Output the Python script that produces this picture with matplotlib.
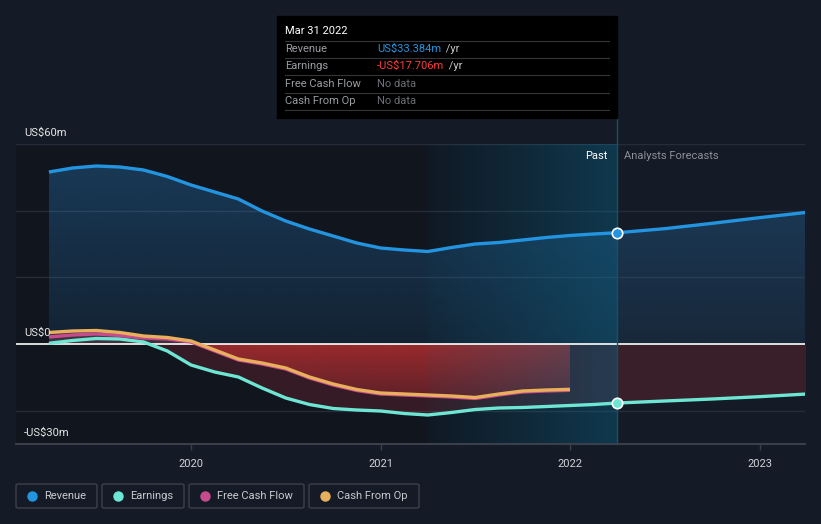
import numpy as np
import matplotlib
matplotlib.use("Agg")
import matplotlib.pyplot as plt
from matplotlib.patches import Rectangle, FancyBboxPatch
from matplotlib.colors import to_rgba

plt.rcParams['font.family'] = ['Roboto', 'DejaVu Sans']

# ---------------- data (US$ m, decimal years) ----------------
past_years = [2019.25, 2019.375, 2019.5, 2019.625, 2019.75, 2019.875, 2020.0, 2020.125,
              2020.25, 2020.375, 2020.5, 2020.625, 2020.75, 2020.875, 2021.0, 2021.125,
              2021.25, 2021.375, 2021.5, 2021.625, 2021.75, 2021.875, 2022.0, 2022.125,
              2022.25]
revenue_past = [51.6, 52.8, 53.4, 53.1, 52.2, 50.25, 47.7, 45.6,
                43.5, 39.9, 36.9, 34.5, 32.4, 30.3, 28.8, 28.2,
                27.75, 28.95, 30.0, 30.45, 31.2, 31.95, 32.55, 33.0,
                33.384]
earnings_past = [0.2, 1.05, 1.65, 1.5, 0.6, -2.1, -6.3, -8.4,
                 -9.9, -13.2, -16.2, -18.15, -19.35, -19.8, -20.1, -20.85,
                 -21.3, -20.55, -19.65, -19.2, -19.05, -18.75, -18.45, -18.15,
                 -17.706]
forecast_years = [2022.25, 2022.5, 2022.75, 2023.0, 2023.25]
revenue_forecast = [33.384, 34.6, 36.2, 37.9, 39.5]
earnings_forecast = [-17.706, -17.1, -16.5, -15.8, -15.0]

cash_years = past_years[:23]
cash_from_op = [3.45, 3.9, 4.05, 3.45, 2.4, 1.95, 0.9, -1.8,
                -4.5, -5.7, -7.2, -9.9, -12.0, -13.65, -14.7, -15.0,
                -15.3, -15.6, -16.05, -15.0, -14.1, -13.8, -13.6]
free_cash_flow = [2.1, 2.7, 3.0, 2.55, 1.8, 1.5, 0.6, -2.1,
                  -4.8, -6.0, -7.5, -10.2, -12.3, -13.95, -15.0, -15.3,
                  -15.6, -15.9, -16.35, -15.3, -14.4, -14.1, -13.9]

y_ticks = [60, 0, -30]
y_tick_labels = ["US$60m", "US$0", "-US$30m"]
x_ticks = [2020, 2021, 2022, 2023]
x_tick_labels = ["2020", "2021", "2022", "2023"]
legend_labels = ["Revenue", "Earnings", "Free Cash Flow", "Cash From Op"]

# ---------------- style ----------------
BG = '#151b26'
C_REV = '#2394df'
C_EARN = '#6ee6d4'
C_FCF = '#c84b8e'
C_COP = '#e8b05c'

W, H = 821, 524
fig = plt.figure(figsize=(W / 100, H / 100), dpi=100, facecolor=BG)

def fx(px):
    return px / W

def fy(py):
    return 1 - py / H

ax_l, ax_r, ax_t, ax_b = 16, 805, 144, 444
ax = fig.add_axes([fx(ax_l), fy(ax_b), (ax_r - ax_l) / W, (ax_b - ax_t) / H])
ax.set_facecolor(BG)
x0 = 2020 + (ax_l - 191) / 189.5
x1 = 2020 + (ax_r - 191) / 189.5
ax.set_xlim(x0, x1)
ax.set_ylim(-30, 60)
for s in ax.spines.values():
    s.set_visible(False)

now = past_years[-1]
shade_start = 2021.25

# darker past region
ax.axvspan(x0, now, color='black', alpha=0.2, lw=0, zorder=0)

# grid lines
for g in [60, 40, 20, -20]:
    ax.axhline(g, color='#272d38', lw=1, zorder=1)

def gradient_fill(xs, y_top, y_bot, c, a_top, a_bot, z, ylims):
    poly = ax.fill_between(xs, y_top, y_bot, color='none', lw=0, zorder=z)
    rgba = np.array(to_rgba(c))
    n = 256
    grad = np.zeros((n, 1, 4))
    grad[:, 0, :3] = rgba[:3]
    grad[:, 0, 3] = np.linspace(a_top, a_bot, n)
    lo, hi = ylims
    im = ax.imshow(grad, extent=[min(xs), max(xs), lo, hi], aspect='auto',
                   origin='upper', zorder=z, interpolation='bilinear')
    im.set_clip_path(poly.get_paths()[0], transform=ax.transData)
    return im

all_years = past_years + forecast_years[1:]
all_rev = revenue_past + revenue_forecast[1:]
all_earn = earnings_past + earnings_forecast[1:]

# revenue fill
gradient_fill(all_years, all_rev, 0, '#2a80c4', 0.34, 0.13, 2, ylims=(0, 55))
# earnings negative fill
ax.fill_between(all_years, all_earn, 0, where=[e <= 0.01 for e in all_earn],
                interpolate=True, color='#6e2630', alpha=0.4, lw=0, zorder=2)
# cash flow fill (bright near zero, fading toward the line)
gradient_fill(cash_years, cash_from_op, 0, '#c03030', 0.72, 0.28, 3, ylims=(-17, 0))
ax.fill_between(cash_years, cash_from_op, 0, where=[c > 0 for c in cash_from_op],
                interpolate=True, color='#c86060', alpha=0.25, lw=0, zorder=3)

# highlight past year region (horizontal gradient)
n = 256
hgrad = np.zeros((1, n, 4))
hgrad[0, :, :3] = to_rgba('#0f6a90')[:3]
hgrad[0, :, 3] = np.linspace(0.05, 0.42, n)
ax.imshow(hgrad, extent=[shade_start, now, -30, 60], aspect='auto', zorder=4,
          interpolation='bilinear')
ax.set_xlim(x0, x1)
ax.set_ylim(-30, 60)

# zero line
ax.axhline(0, color='white', lw=1.2, zorder=5)

# lines
kw = dict(lw=2.4, solid_capstyle='butt', solid_joinstyle='round')
ax.plot(all_years, all_rev, color=C_REV, zorder=6, **kw)
ax.plot(all_years, all_earn, color=C_EARN, zorder=6, **kw)
ax.plot(cash_years, free_cash_flow, color=C_FCF, zorder=6, **kw)
ax.plot(cash_years, cash_from_op, color=C_COP, zorder=7, **kw)

# markers
ax.plot([now], [revenue_past[-1]], 'o', ms=7.5, mfc=C_REV, mec='white', mew=1.2, zorder=9)
ax.plot([now], [earnings_past[-1]], 'o', ms=7.5, mfc=C_EARN, mec='white', mew=1.2, zorder=9)

# now line
ax.plot([now, now], [-30, 60 + 26 / 3.3333], color='#1d4f60', lw=1, zorder=8, clip_on=False)

# bottom axis line and ticks
ax.axhline(-30, color='#3a404b', lw=1.5, zorder=8, clip_on=False)
ax.set_xticks(x_ticks)
ax.set_xticklabels(x_tick_labels)
ax.tick_params(axis='x', colors='#3a404b', length=4, width=1, labelcolor='#d0d3d8',
               labelsize=8, pad=7)
ax.set_yticks([])

# y labels
for v, lab in zip(y_ticks, y_tick_labels):
    ax.text(x0 + 8 / 189.5, v + 12 / 3.3333 * 0.95, lab, color='#e6e6e6', fontsize=8,
            ha='left', va='center', zorder=10, clip_on=False)

# Past / forecasts
ax.text(now - 10 / 189.5, 60 - 12 / 3.3333, "Past", color='white', fontsize=8,
        ha='right', va='center', zorder=10)
ax.text(now + 7 / 189.5, 60 - 12 / 3.3333, "Analysts Forecasts", color='#8a8f98',
        fontsize=8, ha='left', va='center', zorder=10)

# ---------------- tooltip ----------------
fig.patches.append(Rectangle((fx(277), fy(118)), (617 - 277) / W, (118 - 16) / H,
                             transform=fig.transFigure, color='black', zorder=20))
fig.text(fx(285), fy(31), "Mar 31 2022", color='white', fontsize=8, va='center', zorder=21)
rows = [("Revenue", "US$33.384m", C_REV, " /yr"),
        ("Earnings", "-US$17.706m", '#ff3b3b', " /yr"),
        ("Free Cash Flow", "No data", '#6c6f75', ""),
        ("Cash From Op", "No data", '#6c6f75', "")]
row_y = [49, 66, 84, 101]
for yy in [41, 58, 75, 93, 110]:
    fig.add_artist(plt.Line2D([fx(285), fx(609)], [fy(yy), fy(yy)], color='#333538',
                              lw=0.8, zorder=21))
for (lab, val, col, suf), yy in zip(rows, row_y):
    fig.text(fx(285), fy(yy), lab, color='#9a9da2', fontsize=8, va='center', zorder=21)
    t = fig.text(fx(377), fy(yy), val, color=col, fontsize=8, va='center', zorder=21)
    if suf:
        fig.canvas.draw()
        bb = t.get_window_extent()
        fig.text(bb.x1 / W + 2 / W, fy(yy), suf, color='#c8c8c8', fontsize=8,
                 va='center', zorder=21)

# ---------------- legend ----------------
leg_boxes = [(16, 97), (102, 184), (189, 304), (309, 419)]
leg_colors = [C_REV, C_EARN, C_FCF, C_COP]
for (l, r), lab, col in zip(leg_boxes, legend_labels, leg_colors):
    fig.patches.append(FancyBboxPatch((fx(l), fy(508)), (r - l) / W, 24 / H,
                                      boxstyle="round,pad=0,rounding_size=0.003",
                                      transform=fig.transFigure, facecolor='none',
                                      edgecolor='#3b404a', lw=1, zorder=20))
    fig.add_artist(plt.Line2D([fx(l + 16)], [fy(496)], marker='o', ms=6.5, color=col,
                              mec=col, zorder=21))
    fig.text(fx(l + 28), fy(496), lab, color='#c8cacf', fontsize=8, va='center', zorder=21)

fig.savefig("out.png", dpi=100, facecolor=BG)
